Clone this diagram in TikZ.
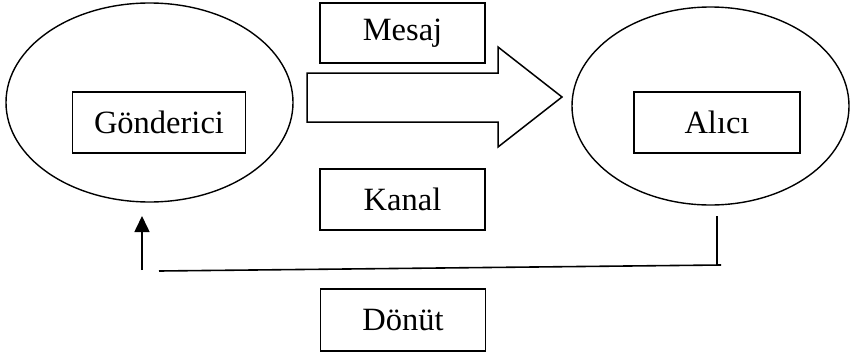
\documentclass[tikz,border=0pt]{standalone}
\usepackage{fontspec}
\setmainfont{Liberation Serif}
\usetikzlibrary{shapes.geometric,arrows.meta}
\tikzset{
  oval/.style={draw, ellipse, line width=1.4pt, inner sep=0pt},
  lbox/.style={draw, rectangle, line width=1.6pt, inner sep=0pt, font=\fontsize{32.5}{39}\selectfont},
  conn/.style={line width=1.6pt},
}
\begin{document}
\begin{tikzpicture}[x=1pt,y=-1pt]
\useasboundingbox (0,0) rectangle (850,356);
% ellipses
\node[oval, minimum width=287pt, minimum height=199pt] (send) at (149.5,102.5) {};
\node[oval, minimum width=277pt, minimum height=198pt] (recv) at (710.5,106) {};
% boxes
\node[lbox, minimum width=173pt, minimum height=61pt] (gon) at (159,122.5) {Gönderici};
\node[lbox, minimum width=166pt, minimum height=61pt] (alici) at (717,122.5) {Alıcı};
\node[lbox, minimum width=165pt, minimum height=60pt] (mesaj) at (402.5,33) {Mesaj};
\node[lbox, minimum width=165pt, minimum height=61pt] (kanal) at (402.5,199.5) {Kanal};
\node[lbox, minimum width=165pt, minimum height=62pt] (donut) at (403,320) {Dönüt};
% big arrow
\draw[line width=1.5pt, line join=miter]
  (307,73) -- (498,73) -- (498,47) -- (562,97) -- (498,147) -- (498,122) -- (307,122) -- cycle;
% feedback connector
\coordinate (fbR) at (717,216);
\coordinate (fbC) at (717,265);
\coordinate (fbE) at (721,265);
\coordinate (fbL) at (159,271);
\coordinate (upT) at (142,270);
\coordinate (upH) at (142,216);
\draw[conn] (fbR) -- (fbC);
\draw[conn] (fbE) -- (fbL);
\draw[conn, -{Triangle[length=16pt,width=15pt]}] (upT) -- (upH);
\end{tikzpicture}
\end{document}
